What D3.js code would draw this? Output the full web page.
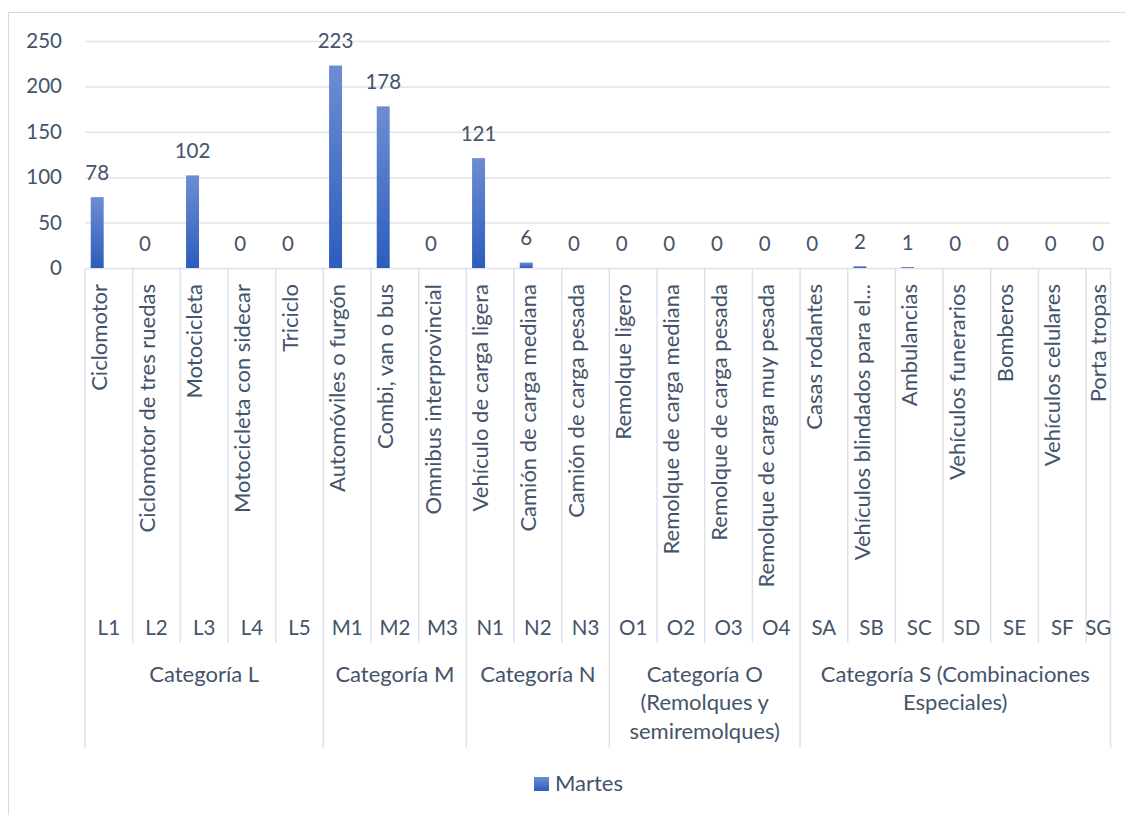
<!DOCTYPE html>
<html>
<head>
<meta charset="utf-8">
<script src="https://cdn.jsdelivr.net/npm/d3@7"></script>
<style>
  html, body { margin: 0; padding: 0; background: #ffffff; }
  svg { display: block; }
  text { font-family: Lato, "Open Sans", sans-serif; fill: #44546a; }
</style>
</head>
<body>
<svg id="chart" width="1126" height="815"></svg>
<script>
// ---- data ----
const codes = ["L1","L2","L3","L4","L5","M1","M2","M3","N1","N2","N3","O1","O2","O3","O4","SA","SB","SC","SD","SE","SF","SG"];
const names = [
  "Ciclomotor","Ciclomotor de tres ruedas","Motocicleta","Motocicleta con sidecar","Triciclo",
  "Automóviles o furgón","Combi, van o bus","Omnibus interprovincial",
  "Vehículo de carga ligera","Camión de carga mediana","Camión de carga pesada",
  "Remolque ligero","Remolque de carga mediana","Remolque de carga pesada","Remolque de carga muy pesada",
  "Casas rodantes","Vehículos blindados para el...","Ambulancias","Vehículos funerarios","Bomberos","Vehículos celulares","Porta tropas"
];
const groups = ["Categoría L","Categoría M","Categoría N","Categoría O (Remolques y semiremolques)","Categoría S (Combinaciones Especiales)"];
const codeGroup = [0,0,0,0,0,1,1,1,2,2,2,3,3,3,3,4,4,4,4,4,4,4];
const seriesName = "Martes";
const values = [78,0,102,0,0,223,178,0,121,6,0,0,0,0,0,0,2,1,0,0,0,0];
const yTicks = [0,50,100,150,200,250];

// ---- layout ----
const svg = d3.select("#chart");
const left = 85, step = 47.67, plotRight = 1110.5;
const yTop = 41, yBase = 268;
const FSN = 20.5; // numbers
const FST = 22;   // text labels

// chart border (cropped at right/bottom)
svg.append("line").attr("x1", 8.5).attr("x2", 1126).attr("y1", 12.5).attr("y2", 12.5)
  .attr("stroke", "#d9d9d9").attr("stroke-width", 1);
svg.append("line").attr("x1", 8.5).attr("x2", 8.5).attr("y1", 12.5).attr("y2", 815)
  .attr("stroke", "#d9d9d9").attr("stroke-width", 1);

const x = d3.scaleBand().domain(codes).range([left, left + step * codes.length]).padding(0);
const y = d3.scaleLinear().domain([0, 250]).range([yBase, yTop]);

// gradient
const defs = svg.append("defs");
const grad = defs.append("linearGradient").attr("id", "barGrad")
  .attr("x1", 0).attr("y1", 0).attr("x2", 0).attr("y2", 1);
grad.append("stop").attr("offset", "0%").attr("stop-color", "#6d8dd2");
grad.append("stop").attr("offset", "100%").attr("stop-color", "#2c5dbd");
defs.append("clipPath").attr("id", "plotClip").append("rect")
  .attr("x", left).attr("y", 0).attr("width", plotRight - left).attr("height", 815);

// y axis + gridlines
const yAxis = d3.axisLeft(y).tickValues(yTicks).tickSize(-(plotRight - left)).tickPadding(23);
const gy = svg.append("g").attr("transform", `translate(${left},0)`).call(yAxis);
gy.select(".domain").remove();
gy.selectAll(".tick line").attr("stroke", "#e1e4e9").attr("stroke-width", 1.5);
gy.selectAll(".tick text").style("font-family", "Lato, sans-serif").style("font-size", FSN + "px")
  .attr("fill", "#44546a");

// bars
const bw = x.bandwidth();
const barOff = bw * 0.12, barW = bw * 0.272;
const plot = svg.append("g").attr("clip-path", "url(#plotClip)");
plot.selectAll("rect.bar").data(values).join("rect").attr("class", "bar")
  .attr("x", (d, i) => x(codes[i]) + barOff)
  .attr("width", barW)
  .attr("y", d => y(d))
  .attr("height", d => yBase - y(d))
  .attr("fill", "url(#barGrad)");

// data labels
svg.selectAll("text.dl").data(values).join("text").attr("class", "dl")
  .attr("x", (d, i) => x(codes[i]) + barOff + barW / 2)
  .attr("y", d => y(d) - 17.5)
  .attr("text-anchor", "middle")
  .style("font-size", FSN + "px")
  .text(d => d);

// category axis separators
const sepColor = "#dde2ea";
const clipX = v => Math.min(v, plotRight);
codes.forEach((c, i) => {
  const xs = x(c);
  const isGroupStart = i === 0 || codeGroup[i] !== codeGroup[i - 1];
  svg.append("line").attr("x1", xs).attr("x2", xs)
    .attr("y1", yBase).attr("y2", isGroupStart ? 747.5 : 643)
    .attr("stroke", sepColor).attr("stroke-width", 1.5);
});
svg.append("line").attr("x1", plotRight).attr("x2", plotRight)
  .attr("y1", yBase).attr("y2", 747.5).attr("stroke", sepColor).attr("stroke-width", 1.5);

// rotated names
codes.forEach((c, i) => {
  const bc = x(c) + bw / 2;
  const cc = (x(c) + clipX(x(c) + bw)) / 2;
  const bx = Math.min(bc - 2, cc + 8);
  svg.append("text")
    .attr("transform", `translate(${bx},284) rotate(-90)`)
    .attr("text-anchor", "end")
    .style("font-size", FST + "px")
    .text(names[i]);
});

// code labels
codes.forEach((c, i) => {
  const cc = (x(c) + clipX(x(c) + bw)) / 2;
  svg.append("text").attr("x", cc).attr("y", 635).attr("text-anchor", "middle")
    .style("font-size", FSN + "px").text(c);
});

// group labels with wrapping
groups.forEach((g, gi) => {
  const idx = codeGroup.map((v, i) => v === gi ? i : -1).filter(i => i >= 0);
  const x0 = x(codes[idx[0]]);
  const x1 = clipX(x(codes[idx[idx.length - 1]]) + bw);
  const cx = (x0 + x1) / 2;
  const maxW = x1 - x0 - 8;
  const t = svg.append("text").attr("text-anchor", "middle").style("font-size", FST + "px");
  const words = g.split(" ");
  let lines = [], cur = [];
  const probe = svg.append("text").style("font-size", FST + "px");
  words.forEach(w => {
    const test = cur.concat([w]).join(" ");
    probe.text(test);
    if (probe.node().getComputedTextLength() > maxW && cur.length) {
      lines.push(cur.join(" ")); cur = [w];
    } else cur.push(w);
  });
  if (cur.length) lines.push(cur.join(" "));
  probe.remove();
  lines.forEach((ln, li) => {
    t.append("tspan").attr("x", cx).attr("y", 681.5 + li * 28.5).text(ln);
  });
});

// legend
const lg = svg.append("g");
lg.append("rect").attr("x", 534).attr("y", 777).attr("width", 15).attr("height", 14).attr("fill", "url(#barGrad)");
lg.append("text").attr("x", 555).attr("y", 791).style("font-size", FST + "px").text(seriesName);
</script>
</body>
</html>
